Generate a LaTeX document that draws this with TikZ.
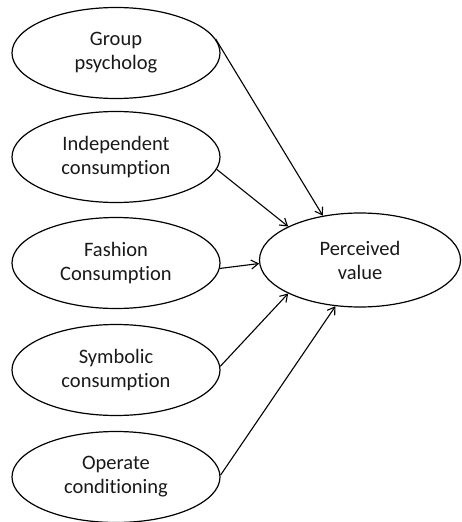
\documentclass[tikz,border=0pt]{standalone}
\usepackage{fontspec}
\setmainfont{Carlito}[Ligatures=NoCommon]
\usetikzlibrary{shapes.geometric,arrows.meta}
\begin{document}
\begin{tikzpicture}[x=1pt,y=-1pt,
  oval/.style={draw, ellipse, line width=1.2pt, inner sep=0pt,
    minimum width=208pt, minimum height=91pt, align=center,
    font=\fontsize{20.5}{24}\selectfont, text=black!90},
  link/.style={line width=1.1pt, -{Straight Barb[length=7pt,width=9pt,line width=1.1pt]}}]
\useasboundingbox (0,0) rectangle (461,522);
\node[oval] (g1) at (116,53) {Group\\psycholog};
\node[oval] (g2) at (116,157) {Independent\\consumption};
\node[oval] (g3) at (116,263) {Fashion\\Consumption};
\node[oval] (g4) at (116,370) {Symbolic\\consumption};
\node[oval] (g5) at (116,477) {Operate\\conditioning};
\node[oval, minimum width=201pt, minimum height=94pt] (pv) at (360,260) {Perceived\\value};
\draw[link] (g1.8) -- (pv.130);
\draw[link] (g2.-7) -- (pv.155);
\draw[link] (g3.-3) -- (pv.182);
\draw[link] (g4.2) -- (pv.205);
\draw[link] (g5.1) -- (pv.242);
\end{tikzpicture}
\end{document}
